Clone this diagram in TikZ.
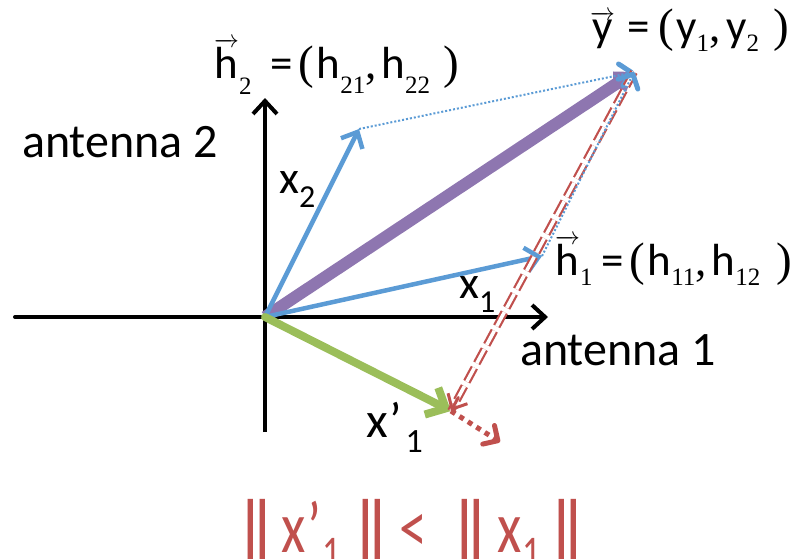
\documentclass[tikz,border=0pt]{standalone}
\usepackage{fontspec}
\setmainfont{Carlito}
\newfontfamily\serif{Liberation Serif}
\usetikzlibrary{arrows.meta,calc}
\definecolor{oblue}{RGB}{91,155,213}
\definecolor{opurple}{RGB}{142,118,176}
\definecolor{ogreen}{RGB}{155,190,90}
\definecolor{ored}{RGB}{192,80,77}
\newcommand\hsub[2][12pt]{\raisebox{-#1}{\fontsize{25}{25}\selectfont\serif #2}}
\newcommand\bigp[1]{{\fontsize{47}{47}\selectfont\serif #1}}
\newcommand\vecl[1]{$\overrightarrow{\hbox{#1}}$}
\newcommand\dbar{{\bfseries|\kern-0.26em|}}
\begin{document}
\begin{tikzpicture}[x=1pt,y=-1pt,
  lbl/.style={inner sep=0pt,anchor=base west},
  vecarrow/.style={line cap=round,line join=round,-{Straight Barb[length=13pt,width=24pt]}},
  axis/.style={vecarrow,line width=4pt,black},
  bluevec/.style={vecarrow,line width=4.5pt,oblue},
  dotblue/.style={oblue,line width=2pt,dotted,-{Straight Barb[length=11pt,width=22pt,line width=5pt,line cap=round,round]}},
]
\useasboundingbox (0,0) rectangle (793,558);
% points
\coordinate (O) at (265,317);
\coordinate (AxL) at (15,317);
\coordinate (AxR) at (548,317);
\coordinate (AxB) at (265,432);
\coordinate (AxT) at (265,98);
\coordinate (H2) at (359,129);
\coordinate (H1) at (542,256);
\coordinate (Y) at (634,72);
\coordinate (Xp) at (451,411);
\coordinate (R) at (500,442);
% axes
\draw[axis] (AxL) -- (AxR);
\draw[line width=4pt] (AxB) -- (O);
\draw[axis] (O) -- (AxT);
% purple
\draw[line width=12pt,opurple,-{Straight Barb[length=10pt,width=14pt]}] (O) -- (Y);
% blue vectors
\draw[bluevec] (O) -- (H2);
\draw[bluevec] (O) -- (H1);
% green
\draw[line width=8pt,ogreen,line cap=round,line join=round,-{Straight Barb[length=16pt,width=30pt]}] (O) -- (Xp);
% blue dotted
\draw[dotblue] (H2) -- (Y);
% red double dashed
\draw[ored,line width=2.2pt,double=white,double distance=3.5pt,dash pattern=on 16pt off 5pt] (Y) -- (Xp);
\draw[ored,line width=3pt,line cap=round,-{Straight Barb[length=12pt,width=22pt]}] ($(Y)!0.96!(Xp)$) -- (Xp);
\draw[dotblue] (H1) -- (Y);
% red dotted
\draw[ored,line width=5pt,dash pattern=on 5pt off 5pt,-{Straight Barb[length=11pt,width=22pt,line cap=round,round]}] (Xp) -- (R);
% labels
\node[lbl,font=\fontsize{48}{48}\selectfont] (a2) at (22,157) {antenna 2};
\node[lbl,font=\fontsize{48}{48}\selectfont] (a1) at (520,365) {antenna 1};
\node[lbl,font=\fontsize{46}{46}\selectfont] (x2) at (279,193) {x\raisebox{-14pt}{\fontsize{32}{32}\selectfont 2}};
\node[lbl,font=\fontsize{46}{46}\selectfont] (x1) at (459,298) {x\raisebox{-14pt}{\fontsize{32}{32}\selectfont 1}};
\node[lbl,font=\fontsize{50}{50}\selectfont] (x1p) at (366,437) {x’\hspace{4pt}\raisebox{-15pt}{\fontsize{34}{34}\selectfont 1}};
\node[lbl,font=\fontsize{45}{45}\selectfont] (h2) at (214,78) {\vecl{h}\hsub[16pt]{2}\hspace{19pt}=\hspace{6pt}\bigp{(}\hspace{2pt}h\hsub[15pt]{21}{\serif ,}\hspace{5pt}h\hsub[15pt]{22}\hspace{13pt}\bigp{)}};
\node[lbl,font=\fontsize{45}{45}\selectfont] (h1) at (555,275) {\vecl{h}\hsub[10pt]{1}\hspace{9pt}=\hspace{6pt}\bigp{(}\hspace{2pt}h\hsub[10pt]{11}{\serif ,}\hspace{5pt}h\hsub[10pt]{12}\hspace{16pt}\bigp{)}};
\node[lbl,font=\fontsize{45}{45}\selectfont] (yl) at (590,41) {\vecl{y}\hspace{12pt}=\hspace{9pt}\bigp{(}\hspace{2pt}y\hsub[10pt]{1}{\serif ,}\hspace{6pt}y\hsub[10pt]{2}\hspace{14pt}\bigp{)}};
\node[lbl,font=\fontsize{56}{56}\selectfont,text=ored,yscale=1.3,transform shape] (ineq) at (237,552) {\dbar\hspace{6pt}x’\hspace{1pt}\raisebox{-13pt}{\fontsize{36}{36}\selectfont 1}\hspace{12pt}\dbar\hspace{8pt}<\hspace{24pt}\dbar\hspace{8pt}x\raisebox{-13pt}{\fontsize{36}{36}\selectfont 1}\hspace{8pt}\dbar};
\end{tikzpicture}
\end{document}
